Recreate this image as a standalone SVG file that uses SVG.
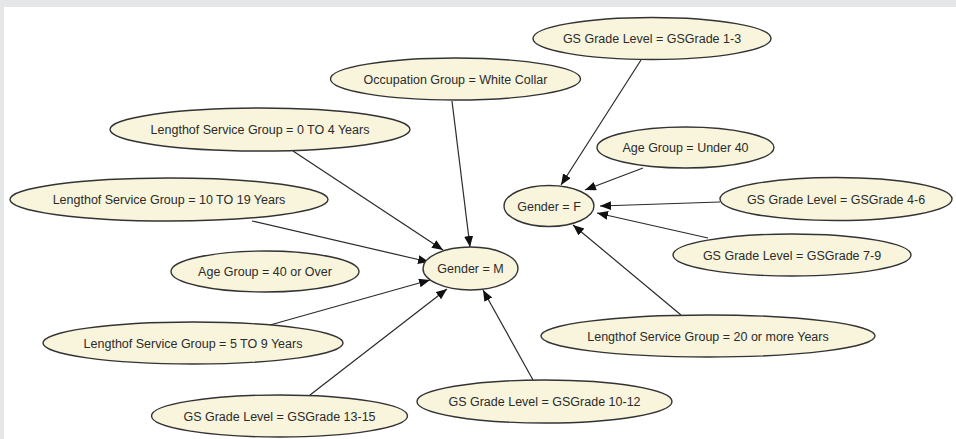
<svg xmlns="http://www.w3.org/2000/svg" width="956" height="439" viewBox="0 0 956 439">
  <defs>
    <marker id="arrow" markerUnits="userSpaceOnUse" markerWidth="12" markerHeight="10" refX="11" refY="4.5" orient="auto">
      <path d="M0,0 L11,4.5 L0,9 Z" fill="#111"/>
    </marker>
  </defs>
  <style>
    .node ellipse { fill: #f8f5dc; stroke: #333333; stroke-width: 1.4; }
    .node text { font-family: "Liberation Sans", Arial, sans-serif; font-size: 12.5px; fill: #2b2b2b; text-anchor: middle; }
    .edge { stroke: #2a2a2a; stroke-width: 1.2; fill: none; marker-end: url(#arrow); }
  </style>

  <!-- canvas with frame strips -->
  <rect x="0" y="0" width="956" height="439" fill="#ffffff"/>
  <rect x="0" y="0" width="956" height="7" fill="#e5e6e8"/>
  <rect x="0" y="0" width="4" height="439" fill="#e5e6e8"/>

  <!-- connectors -->
  <g id="edges">
    <line class="edge" x1="452" y1="101" x2="470" y2="247"/>
    <line class="edge" x1="293" y1="151" x2="443" y2="250"/>
    <line class="edge" x1="252" y1="221" x2="429" y2="262"/>
    <line class="edge" x1="270" y1="325" x2="430" y2="280"/>
    <line class="edge" x1="310" y1="395" x2="447" y2="289"/>
    <line class="edge" x1="533" y1="380" x2="483" y2="290"/>
    <line class="edge" x1="641" y1="60" x2="561" y2="185"/>
    <line class="edge" x1="643" y1="168" x2="585" y2="190"/>
    <line class="edge" x1="720" y1="202" x2="600" y2="206"/>
    <line class="edge" x1="708" y1="238" x2="597" y2="213"/>
    <line class="edge" x1="681" y1="315" x2="573" y2="225"/>
  </g>

  <!-- nodes -->
  <g id="node-gs-1-3" class="node">
    <ellipse cx="652" cy="38.5" rx="119" ry="21"/>
    <text x="652" y="43">GS Grade Level = GSGrade 1-3</text>
  </g>
  <g id="node-occupation-white-collar" class="node">
    <ellipse cx="455.5" cy="79" rx="125" ry="21"/>
    <text x="455.5" y="83.5">Occupation Group = White Collar</text>
  </g>
  <g id="node-los-0-4" class="node">
    <ellipse cx="260" cy="129.5" rx="150" ry="21.5"/>
    <text x="260" y="134">Lengthof Service Group = 0 TO 4 Years</text>
  </g>
  <g id="node-los-10-19" class="node">
    <ellipse cx="169" cy="199.5" rx="159" ry="21.5"/>
    <text x="169" y="204">Lengthof Service Group = 10 TO 19 Years</text>
  </g>
  <g id="node-age-under-40" class="node">
    <ellipse cx="685.5" cy="147.5" rx="88.5" ry="20.5"/>
    <text x="685.5" y="152">Age Group = Under 40</text>
  </g>
  <g id="node-gender-f" class="node">
    <ellipse cx="549" cy="206" rx="45" ry="20.5"/>
    <text x="549" y="210.5">Gender = F</text>
  </g>
  <g id="node-gs-4-6" class="node">
    <ellipse cx="836" cy="199" rx="116" ry="21.5"/>
    <text x="836" y="203.5">GS Grade Level = GSGrade 4-6</text>
  </g>
  <g id="node-gs-7-9" class="node">
    <ellipse cx="792" cy="255" rx="119" ry="21"/>
    <text x="792" y="259.5">GS Grade Level = GSGrade 7-9</text>
  </g>
  <g id="node-gender-m" class="node">
    <ellipse cx="470.5" cy="268.5" rx="47.5" ry="21.5"/>
    <text x="470.5" y="273">Gender = M</text>
  </g>
  <g id="node-age-40-over" class="node">
    <ellipse cx="265" cy="271.5" rx="94" ry="20.5"/>
    <text x="265" y="276">Age Group = 40 or Over</text>
  </g>
  <g id="node-los-5-9" class="node">
    <ellipse cx="193" cy="343" rx="150" ry="21"/>
    <text x="193" y="347.5">Lengthof Service Group = 5 TO 9 Years</text>
  </g>
  <g id="node-los-20-more" class="node">
    <ellipse cx="708" cy="336" rx="167" ry="21"/>
    <text x="708" y="340.5">Lengthof Service Group = 20 or more Years</text>
  </g>
  <g id="node-gs-10-12" class="node">
    <ellipse cx="544.5" cy="401.5" rx="127.5" ry="21.5"/>
    <text x="544.5" y="406">GS Grade Level = GSGrade 10-12</text>
  </g>
  <g id="node-gs-13-15" class="node">
    <ellipse cx="279.5" cy="416" rx="128" ry="21"/>
    <text x="279.5" y="420.5">GS Grade Level = GSGrade 13-15</text>
  </g>
</svg>
